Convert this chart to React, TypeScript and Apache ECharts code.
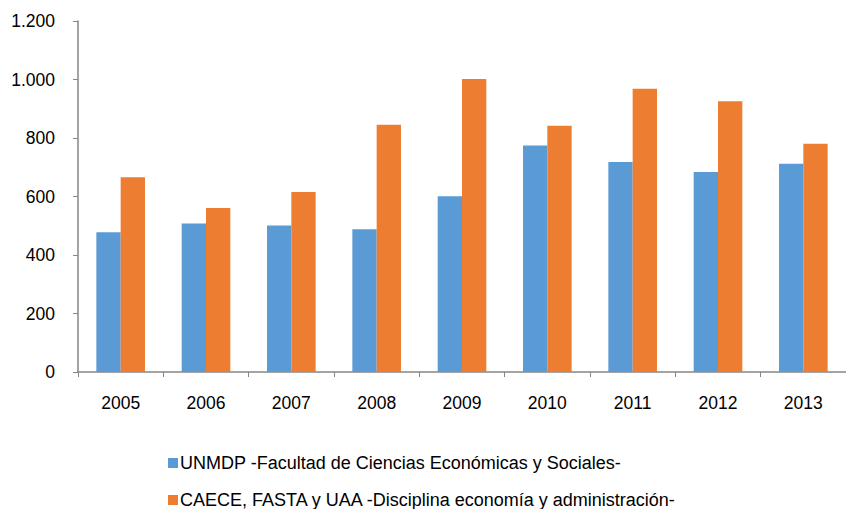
import React, { useEffect, useRef } from "react";
import * as echarts from "echarts";

const categories = ["2005", "2006", "2007", "2008", "2009", "2010", "2011", "2012", "2013"];
const unmdp = [478, 508, 501, 488, 601, 774, 718, 684, 712];
const caece = [666, 561, 615, 845, 1002, 842, 968, 926, 780];
const seriesNames = [
  "UNMDP -Facultad de Ciencias Económicas y Sociales-",
  "CAECE, FASTA y UAA -Disciplina economía y administración-",
];

const fmt = (v: number) => String(v).replace(/\B(?=(\d{3})+(?!\d))/g, ".");

export default function App() {
  const ref = useRef<HTMLDivElement>(null);
  useEffect(() => {
    if (!ref.current) return;
    const chart = echarts.init(ref.current, undefined, { renderer: "svg" });
    const font = "'Liberation Sans', Arial, sans-serif";
    chart.setOption({
      animation: false,
      textStyle: { fontFamily: font },
      grid: { left: 78, top: 21, width: 774, height: 351, containLabel: false },
      legend: {
        orient: "vertical",
        left: 168,
        top: 454,
        padding: 0,
        itemWidth: 10,
        itemHeight: 10,
        itemGap: 19,
        icon: "rect",
        textStyle: { fontSize: 18, color: "#000", fontFamily: font, padding: [0, 0, 0, -3] },
        data: seriesNames,
      },
      xAxis: {
        type: "category",
        data: categories,
        axisLine: { lineStyle: { color: "#868686", width: 1.5 } },
        axisTick: { show: true, length: 5, lineStyle: { color: "#868686" } },
        axisLabel: { fontSize: 17.5, color: "#000", margin: 22, fontFamily: font },
      },
      yAxis: {
        type: "value",
        min: 0,
        max: 1200,
        interval: 200,
        splitLine: { show: false },
        axisLine: { show: true, lineStyle: { color: "#868686", width: 1.5 } },
        axisTick: { show: true, length: 5, lineStyle: { color: "#868686" } },
        axisLabel: { fontSize: 17.5, color: "#000", margin: 23, fontFamily: font, formatter: (v: number) => fmt(v) },
      },
      series: [
        {
          name: seriesNames[0],
          type: "bar",
          data: unmdp,
          barGap: "0%",
          barCategoryGap: "43%",
          itemStyle: { color: "#5B9BD5" },
        },
        {
          name: seriesNames[1],
          type: "bar",
          data: caece,
          barGap: "0%",
          barCategoryGap: "43%",
          itemStyle: { color: "#ED7D31" },
        },
      ],
    });
    return () => chart.dispose();
  }, []);
  return (
    <div
      ref={ref}
      style={{ position: "fixed", left: 0, top: 0, width: 846, height: 509, background: "#fff" }}
    />
  );
}
